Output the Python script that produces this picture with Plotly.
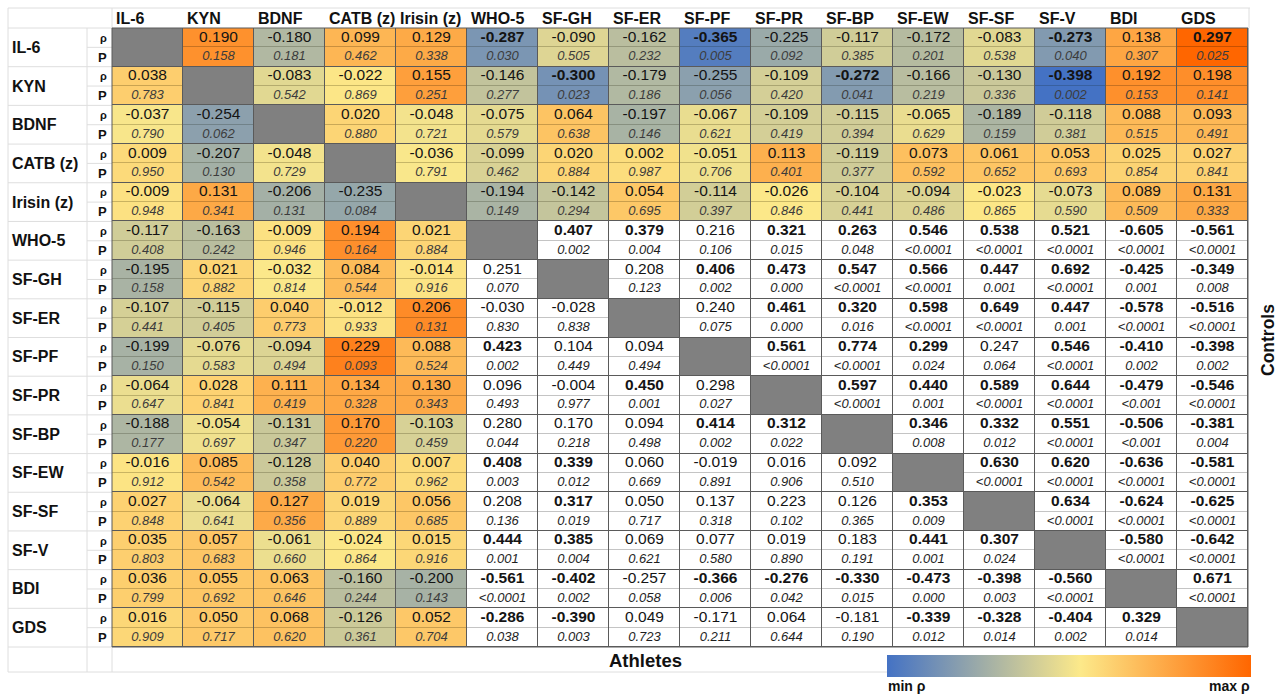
import numpy as np
import plotly.graph_objects as go

# ---------------- data ----------------
variables = ["IL-6", "KYN", "BDNF", "CATB (z)", "Irisin (z)", "WHO-5", "SF-GH", "SF-ER",
             "SF-PF", "SF-PR", "SF-BP", "SF-EW", "SF-SF", "SF-V", "BDI", "GDS"]
n_biomarkers = 5  # rows/columns of the first five variables are colour coded

rho_il6 = [None, 0.190, -0.180, 0.099, 0.129, -0.287, -0.090, -0.162, -0.365, -0.225, -0.117, -0.172, -0.083, -0.273, 0.138, 0.297]
rho_kyn = [0.038, None, -0.083, -0.022, 0.155, -0.146, -0.300, -0.179, -0.255, -0.109, -0.272, -0.166, -0.130, -0.398, 0.192, 0.198]
rho_bdnf = [-0.037, -0.254, None, 0.020, -0.048, -0.075, 0.064, -0.197, -0.067, -0.109, -0.115, -0.065, -0.189, -0.118, 0.088, 0.093]
rho_catb = [0.009, -0.207, -0.048, None, -0.036, -0.099, 0.020, 0.002, -0.051, 0.113, -0.119, 0.073, 0.061, 0.053, 0.025, 0.027]
rho_irisin = [-0.009, 0.131, -0.206, -0.235, None, -0.194, -0.142, 0.054, -0.114, -0.026, -0.104, -0.094, -0.023, -0.073, 0.089, 0.131]
rho_who5 = [-0.117, -0.163, -0.009, 0.194, 0.021, None, 0.407, 0.379, 0.216, 0.321, 0.263, 0.546, 0.538, 0.521, -0.605, -0.561]
rho_sfgh = [-0.195, 0.021, -0.032, 0.084, -0.014, 0.251, None, 0.208, 0.406, 0.473, 0.547, 0.566, 0.447, 0.692, -0.425, -0.349]
rho_sfer = [-0.107, -0.115, 0.040, -0.012, 0.206, -0.030, -0.028, None, 0.240, 0.461, 0.320, 0.598, 0.649, 0.447, -0.578, -0.516]
rho_sfpf = [-0.199, -0.076, -0.094, 0.229, 0.088, 0.423, 0.104, 0.094, None, 0.561, 0.774, 0.299, 0.247, 0.546, -0.410, -0.398]
rho_sfpr = [-0.064, 0.028, 0.111, 0.134, 0.130, 0.096, -0.004, 0.450, 0.298, None, 0.597, 0.440, 0.589, 0.644, -0.479, -0.546]
rho_sfbp = [-0.188, -0.054, -0.131, 0.170, -0.103, 0.280, 0.170, 0.094, 0.414, 0.312, None, 0.346, 0.332, 0.551, -0.506, -0.381]
rho_sfew = [-0.016, 0.085, -0.128, 0.040, 0.007, 0.408, 0.339, 0.060, -0.019, 0.016, 0.092, None, 0.630, 0.620, -0.636, -0.581]
rho_sfsf = [0.027, -0.064, 0.127, 0.019, 0.056, 0.208, 0.317, 0.050, 0.137, 0.223, 0.126, 0.353, None, 0.634, -0.624, -0.625]
rho_sfv = [0.035, 0.057, -0.061, -0.024, 0.015, 0.444, 0.385, 0.069, 0.077, 0.019, 0.183, 0.441, 0.307, None, -0.580, -0.642]
rho_bdi = [0.036, 0.055, 0.063, -0.160, -0.200, -0.561, -0.402, -0.257, -0.366, -0.276, -0.330, -0.473, -0.398, -0.560, None, 0.671]
rho_gds = [0.016, 0.050, 0.068, -0.126, 0.052, -0.286, -0.390, 0.049, -0.171, 0.064, -0.181, -0.339, -0.328, -0.404, 0.329, None]

p_il6 = [None, "0.158", "0.181", "0.462", "0.338", "0.030", "0.505", "0.232", "0.005", "0.092", "0.385", "0.201", "0.538", "0.040", "0.307", "0.025"]
p_kyn = ["0.783", None, "0.542", "0.869", "0.251", "0.277", "0.023", "0.186", "0.056", "0.420", "0.041", "0.219", "0.336", "0.002", "0.153", "0.141"]
p_bdnf = ["0.790", "0.062", None, "0.880", "0.721", "0.579", "0.638", "0.146", "0.621", "0.419", "0.394", "0.629", "0.159", "0.381", "0.515", "0.491"]
p_catb = ["0.950", "0.130", "0.729", None, "0.791", "0.462", "0.884", "0.987", "0.706", "0.401", "0.377", "0.592", "0.652", "0.693", "0.854", "0.841"]
p_irisin = ["0.948", "0.341", "0.131", "0.084", None, "0.149", "0.294", "0.695", "0.397", "0.846", "0.441", "0.486", "0.865", "0.590", "0.509", "0.333"]
p_who5 = ["0.408", "0.242", "0.946", "0.164", "0.884", None, "0.002", "0.004", "0.106", "0.015", "0.048", "<0.0001", "<0.0001", "<0.0001", "<0.0001", "<0.0001"]
p_sfgh = ["0.158", "0.882", "0.814", "0.544", "0.916", "0.070", None, "0.123", "0.002", "0.000", "<0.0001", "<0.0001", "0.001", "<0.0001", "0.001", "0.008"]
p_sfer = ["0.441", "0.405", "0.773", "0.933", "0.131", "0.830", "0.838", None, "0.075", "0.000", "0.016", "<0.0001", "<0.0001", "0.001", "<0.0001", "<0.0001"]
p_sfpf = ["0.150", "0.583", "0.494", "0.093", "0.524", "0.002", "0.449", "0.494", None, "<0.0001", "<0.0001", "0.024", "0.064", "<0.0001", "0.002", "0.002"]
p_sfpr = ["0.647", "0.841", "0.419", "0.328", "0.343", "0.493", "0.977", "0.001", "0.027", None, "<0.0001", "0.001", "<0.0001", "<0.0001", "<0.001", "<0.0001"]
p_sfbp = ["0.177", "0.697", "0.347", "0.220", "0.459", "0.044", "0.218", "0.498", "0.002", "0.022", None, "0.008", "0.012", "<0.0001", "<0.001", "0.004"]
p_sfew = ["0.912", "0.542", "0.358", "0.772", "0.962", "0.003", "0.012", "0.669", "0.891", "0.906", "0.510", None, "<0.0001", "<0.0001", "<0.0001", "<0.0001"]
p_sfsf = ["0.848", "0.641", "0.356", "0.889", "0.685", "0.136", "0.019", "0.717", "0.318", "0.102", "0.365", "0.009", None, "<0.0001", "<0.0001", "<0.0001"]
p_sfv = ["0.803", "0.683", "0.660", "0.864", "0.916", "0.001", "0.004", "0.621", "0.580", "0.890", "0.191", "0.001", "0.024", None, "<0.0001", "<0.0001"]
p_bdi = ["0.799", "0.692", "0.646", "0.244", "0.143", "<0.0001", "0.002", "0.058", "0.006", "0.042", "0.015", "0.000", "0.003", "<0.0001", None, "<0.0001"]
p_gds = ["0.909", "0.717", "0.620", "0.361", "0.704", "0.038", "0.003", "0.723", "0.211", "0.644", "0.190", "0.012", "0.014", "0.002", "0.014", None]

# cells printed in regular weight although p < 0.05 (as in the original)
not_bold = [("SF-PR", "SF-PF"), ("SF-BP", "WHO-5")]

rho_rows = [rho_il6, rho_kyn, rho_bdnf, rho_catb, rho_irisin, rho_who5, rho_sfgh, rho_sfer,
            rho_sfpf, rho_sfpr, rho_sfbp, rho_sfew, rho_sfsf, rho_sfv, rho_bdi, rho_gds]
p_rows = [p_il6, p_kyn, p_bdnf, p_catb, p_irisin, p_who5, p_sfgh, p_sfer,
          p_sfpf, p_sfpr, p_sfbp, p_sfew, p_sfsf, p_sfv, p_bdi, p_gds]

# ---------------- derived grids ----------------
N = len(variables)
rho = np.array([[np.nan if v is None else v for v in r] for r in rho_rows], dtype=float)


def p_num(s):
    if s is None:
        return np.nan
    if s.startswith("<"):
        return float(s[1:]) / 2
    return float(s)


pval = np.array([[p_num(s) for s in r] for r in p_rows])
diag = np.eye(N, dtype=bool)
colored = np.zeros((N, N), dtype=bool)
colored[:n_biomarkers, :] = True
colored[:, :n_biomarkers] = True
colored &= ~diag
white = ~colored & ~diag

vals = rho[colored]
zmin, zmax = float(vals.min()), float(vals.max())
mid = (float(np.median(vals)) - zmin) / (zmax - zmin)
cscale = [[0, "#4472C4"], [mid, "#FCE98A"], [1, "#FF6600"]]
cscale_dark = [[0, "#38609f"], [mid, "#c9b866"], [1, "#c85000"]]


def subrows(a):
    out = np.full((2 * N, N), np.nan)
    out[0::2] = a
    out[1::2] = a
    return out


z_col_full = np.where(colored, rho, np.nan)
z_white_full = np.where(white, 1.0, np.nan)
z_diag_full = np.where(diag, 1.0, np.nan)

xs = list(range(N))
y_sub = list(range(2 * N))
y_full = [2 * i + 0.5 for i in range(N)]

# pixel geometry of the cell grid
GX0, GY0, W, HH = 112, 28, 1136, 619
SUB = HH / (2 * N)


def xp(px):
    return (px - GX0) / W


def yp(px):
    return (GY0 + HH - px) / HH


FONT = "Liberation Sans, Arial, sans-serif"
fig = go.Figure()

# underlays (visible through the gap between the rho row and the P row)
fig.add_trace(go.Heatmap(z=z_col_full, x=xs, y=y_full, colorscale=cscale_dark, zmin=zmin, zmax=zmax,
                         showscale=False, xgap=1, ygap=1, hoverinfo="skip"))
fig.add_trace(go.Heatmap(z=z_white_full, x=xs, y=y_full, colorscale=[[0, "#c4c4c4"], [1, "#c4c4c4"]],
                         showscale=False, xgap=1, ygap=1, hoverinfo="skip"))
# main cells
fig.add_trace(go.Heatmap(z=subrows(z_col_full), x=xs, y=y_sub, colorscale=cscale, zmin=zmin, zmax=zmax,
                         xgap=1, ygap=1, hoverinfo="skip",
                         colorbar=dict(orientation="h", x=xp(887), xanchor="left",
                                       y=yp(655), yanchor="top", len=364, lenmode="pixels",
                                       thickness=22, xpad=0, ypad=0, outlinewidth=0,
                                       showticklabels=False, ticks="")))
fig.add_trace(go.Heatmap(z=subrows(z_white_full), x=xs, y=y_sub, colorscale=[[0, "white"], [1, "white"]],
                         showscale=False, xgap=1, ygap=1, hoverinfo="skip"))
fig.add_trace(go.Heatmap(z=z_diag_full, x=xs, y=y_full, colorscale=[[0, "#808080"], [1, "#808080"]],
                         showscale=False, xgap=1, ygap=1, hoverinfo="skip"))

# texts
rx, ry, rt, px_, py_, pt, pc = [], [], [], [], [], [], []
for i in range(N):
    for j in range(N):
        if diag[i, j]:
            continue
        s = f"{rho[i, j]:.3f}"
        b = pval[i, j] < 0.05 and (variables[i], variables[j]) not in not_bold
        rx.append(j); ry.append(2 * i); rt.append(f"<b>{s}</b>" if b else s)
        px_.append(j); py_.append(2 * i + 1); pt.append(f"<i>{p_rows[i][j]}</i>")
        pc.append("#3c3c3c" if colored[i, j] else "#1e1e1e")

fig.add_trace(go.Scatter(x=rx, y=ry, text=rt, mode="text", textposition="middle center",
                         textfont=dict(family=FONT, size=15.5, color="#141414"),
                         hoverinfo="skip", showlegend=False, cliponaxis=False))
fig.add_trace(go.Scatter(x=px_, y=py_, text=pt, mode="text", textposition="middle center",
                         textfont=dict(family=FONT, size=13, color=pc),
                         hoverinfo="skip", showlegend=False, cliponaxis=False))

# ---------------- labels ----------------
ann = []
for j, name in enumerate(variables):
    ann.append(dict(x=j - 0.5, y=yp(18), xref="x", yref="paper", text=f"<b>{name}</b>", showarrow=False,
                    xanchor="left", yanchor="middle", xshift=2, font=dict(family=FONT, size=16, color="#111")))
for i, name in enumerate(variables):
    ann.append(dict(x=xp(10), y=2 * i + 0.5, xref="paper", yref="y", text=f"<b>{name}</b>", showarrow=False,
                    xanchor="left", yanchor="middle", font=dict(family=FONT, size=16, color="#111")))
    ann.append(dict(x=xp(109), y=2 * i, xref="paper", yref="y", text="<b>ρ</b>", showarrow=False,
                    xanchor="right", yanchor="middle", font=dict(family=FONT, size=11, color="#111")))
    ann.append(dict(x=xp(109), y=2 * i + 1, xref="paper", yref="y", text="<b>P</b>", showarrow=False,
                    xanchor="right", yanchor="middle", font=dict(family=FONT, size=13, color="#111")))
ann.append(dict(x=xp(645), y=yp(660), xref="paper", yref="paper", text="<b>Athletes</b>", showarrow=False,
                xanchor="center", yanchor="middle", font=dict(family=FONT, size=18.5, color="#111")))
ann.append(dict(x=xp(1268), y=yp(340), xref="paper", yref="paper", text="<b>Controls</b>", showarrow=False,
                textangle=-90, xanchor="center", yanchor="middle", font=dict(family=FONT, size=17.5, color="#111")))
ann.append(dict(x=xp(886), y=yp(686), xref="paper", yref="paper", text="<b>min ρ</b>", showarrow=False,
                xanchor="left", yanchor="middle", font=dict(family=FONT, size=14, color="#111")))
ann.append(dict(x=xp(1252), y=yp(686), xref="paper", yref="paper", text="<b>max ρ</b>", showarrow=False,
                xanchor="right", yanchor="middle", font=dict(family=FONT, size=14, color="#111")))

# light spreadsheet grid lines around the table
LG = dict(color="#dedede", width=1)
shapes = []


def hline(ypx, x0, x1):
    shapes.append(dict(type="line", xref="paper", yref="paper", x0=xp(x0), x1=xp(x1),
                       y0=yp(ypx), y1=yp(ypx), line=LG, layer="below"))


def vline(xpx, y0, y1):
    shapes.append(dict(type="line", xref="paper", yref="paper", x0=xp(xpx), x1=xp(xpx),
                       y0=yp(y0), y1=yp(y1), line=LG, layer="below"))


hline(8, 8, 1250)
hline(672, 8, 1250)
vline(8, 8, 672)
vline(87, GY0, 672)
vline(112, 8, GY0)
vline(112, GY0 + HH, 672)
vline(1249, 8, GY0)
for k in range(2 * N + 1):
    ypx = GY0 + k * SUB
    if k % 2 == 0:
        hline(ypx, 8, 112)
    else:
        hline(ypx, 87, 112)
# dark frame around the cell grid
shapes.append(dict(type="rect", xref="paper", yref="paper", x0=0, x1=1, y0=0, y1=1,
                   line=dict(color="#5a5a5a", width=1), layer="above"))

fig.update_layout(
    width=1285, height=696,
    margin=dict(l=GX0, r=1285 - GX0 - W, t=GY0, b=696 - GY0 - HH, autoexpand=False),
    paper_bgcolor="white", plot_bgcolor="#5a5a5a",
    xaxis=dict(range=[-0.5, N - 0.5], visible=False, fixedrange=True),
    yaxis=dict(range=[2 * N - 0.5, -0.5], visible=False, fixedrange=True),
    annotations=ann, shapes=shapes, showlegend=False,
    font=dict(family=FONT),
)

fig.write_html("out.html", config={"displayModeBar": False},
               post_script="document.body.style.margin='0';")
